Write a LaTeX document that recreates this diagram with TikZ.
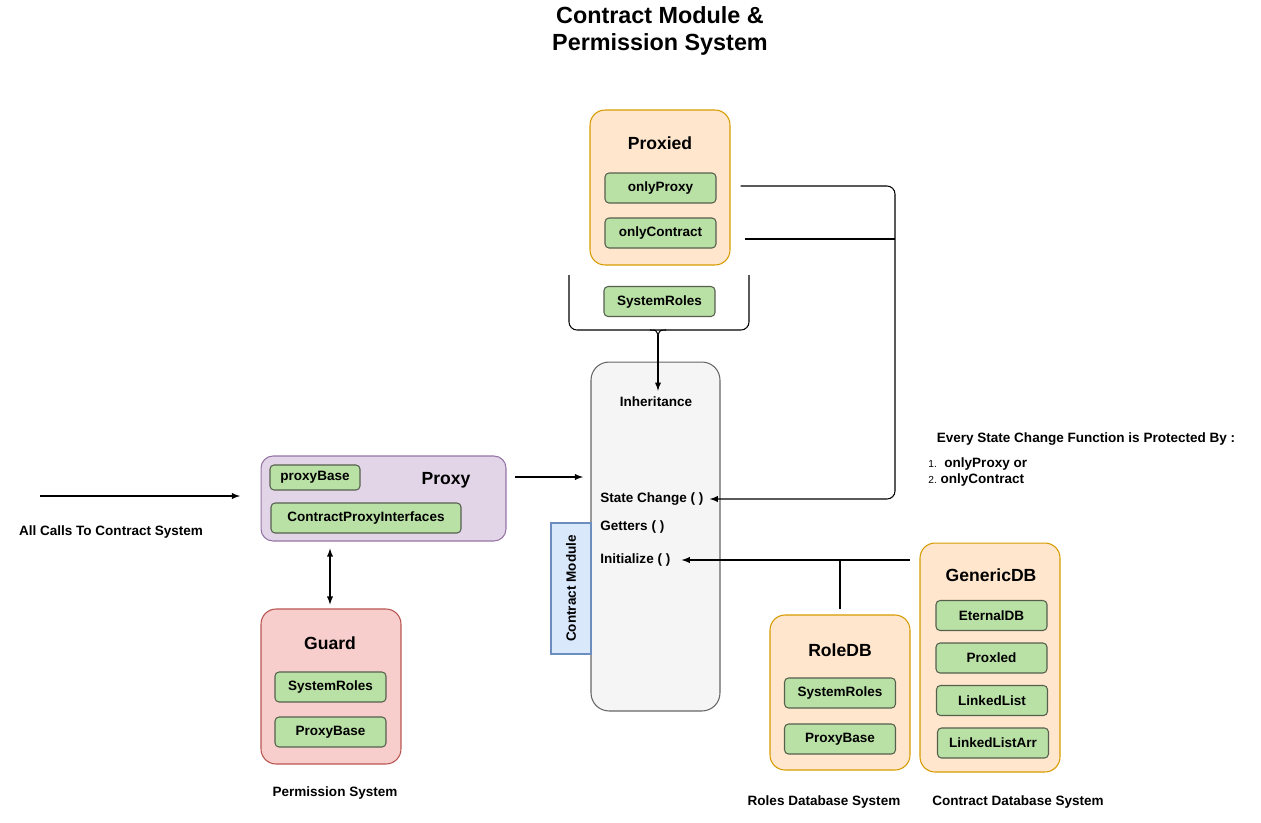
\documentclass[tikz,border=0pt]{standalone}
\usepackage{fontspec}
\setmainfont{Liberation Sans}
\usetikzlibrary{shapes,
                arrows,
                positioning}
\definecolor{orangefill}{HTML}{FFE6CC}
\definecolor{orangeline}{HTML}{D79B00}
\definecolor{greenfill}{HTML}{B9E0A5}
\definecolor{greenline}{HTML}{56604F}
\definecolor{purplefill}{HTML}{E1D5E7}
\definecolor{purpleline}{HTML}{9673A6}
\definecolor{redfill}{HTML}{F8CECC}
\definecolor{redline}{HTML}{B85450}
\definecolor{grayfill}{HTML}{F5F5F5}
\definecolor{grayline}{HTML}{666666}
\definecolor{bluefill}{HTML}{DAE8FC}
\definecolor{blueline}{HTML}{6C8EBF}
\tikzset{module/.style=
   {rectangle,
    draw,
    rounded corners=0.3cm,
    minimum width=2.8cm,
    minimum height=3.1cm}}
\tikzset{item/.style=
   {rectangle,
    draw=greenline,
    fill=greenfill,
    text centered,
    rounded corners=0.08cm,
    minimum width=2.22cm,
    minimum height=0.6cm,
    font=\bfseries\fontsize{7.7}{9}\selectfont}}
\tikzset{plaintext/.style={font=\bfseries\fontsize{7.7}{9}\selectfont}}
\tikzset{heading/.style={font=\bfseries\fontsize{10}{12}\selectfont}}
\tikzset{arrow/.style = {draw, -latex}}

\begin{document}
\begin{tikzpicture}[x=0.02cm, y=-0.02cm, line width=0.6pt]
    \useasboundingbox (0,0) rectangle (1261,822);

    % Title
    \node [align=center, font=\bfseries\fontsize{13.3}{15.3}\selectfont] (title) at (660,31)
    {Contract Module \&\\Permission System};

    % Proxied
    \node [module, fill=orangefill, draw=orangeline] (proxied) at (660,187.5) {};
    \node [heading] (proxiedTitle) at (660,143) {Proxied};
    \node [item] (onlyProxy) at (660.5,188) {onlyProxy};
    \node [item] (onlyContract) at (660.5,233) {onlyContract};

    % Inherited roles
    \node [item] (inheritRoles) at (659.5,301.5) {SystemRoles};
    \coordinate (braceTip) at (658,335);
    \draw [rounded corners=0.16cm] (569,275) -- (569,330) -- (749,330) -- (749,275);
    \draw (650,330) .. controls (656,330) .. (braceTip);
    \draw (666,330) .. controls (660,330) .. (braceTip);

    % Contract module
    \node [module, fill=grayfill, draw=grayline, rounded corners=0.36cm,
           minimum width=2.58cm, minimum height=6.98cm] (contract) at (655.5,536.5) {};
    \node [rectangle, draw=blueline, fill=bluefill, rotate=90, plaintext,
           minimum width=2.62cm, minimum height=0.8cm] (contractTab) at (571,588.5) {Contract Module};
    \node [plaintext] (inheritance) at (656,402) {Inheritance};
    \node [plaintext, anchor=west] (stateChange) at (594,499) {State Change ( )};
    \node [plaintext, anchor=west] (getters) at (594,527) {Getters ( )};
    \node [plaintext, anchor=west] (initialize) at (594,560) {Initialize ( )};

    % Proxy
    \node [module, fill=purplefill, draw=purpleline, rounded corners=0.24cm,
           minimum width=4.9cm, minimum height=1.7cm] (proxy) at (383.5,498.5) {};
    \node [heading] (proxyTitle) at (446,480) {Proxy};
    \node [item, minimum width=1.8cm, minimum height=0.5cm] (proxyBase) at (315,477.5) {proxyBase};
    \node [item, minimum width=3.8cm] (proxyInterfaces) at (366,518) {ContractProxyInterfaces};
    \node [plaintext] (callsText) at (111,532) {All Calls To Contract System};
    \coordinate (callsIn) at (40,496);
    \coordinate (callsEnd) at (240,496);
    \coordinate (proxyOut) at (515,477);
    \coordinate (contractIn) at (583,477);

    % Guard
    \node [module, fill=redfill, draw=redline] (guard) at (331,686.5) {};
    \node [heading] (guardTitle) at (330,643) {Guard};
    \node [item] (guardRoles) at (330.5,687) {SystemRoles};
    \node [item] (guardBase) at (330.5,732) {ProxyBase};
    \node [plaintext] (permissionText) at (335,793) {Permission System};

    % RoleDB
    \node [module, fill=orangefill, draw=orangeline] (roleDB) at (840,692.5) {};
    \node [heading] (roleDBTitle) at (840,650) {RoleDB};
    \node [item] (roleRoles) at (840,693) {SystemRoles};
    \node [item] (roleBase) at (840,739) {ProxyBase};
    \node [plaintext] (rolesText) at (824,802) {Roles Database System};

    % GenericDB
    \node [module, fill=orangefill, draw=orangeline, minimum height=4.58cm] (genericDB) at (990,657.5) {};
    \node [heading] (genericDBTitle) at (991,575) {GenericDB};
    \node [item] (eternalDB) at (991.5,615.5) {EternalDB};
    \node [item] (proxled) at (991.5,658) {Proxled};
    \node [item] (linkedList) at (992,700.5) {LinkedList};
    \node [item] (linkedListArr) at (993,743) {LinkedListArr};
    \node [plaintext] (contractDBText) at (1018,802) {Contract Database System};

    % Notes
    \node [plaintext] (protectText) at (1086,439) {Every State Change Function is Protected By :};
    \node [plaintext, anchor=west] (protectOne) at (922,464)
    {{\mdseries\fontsize{5.8}{7}\selectfont 1.}\ \ onlyProxy or};
    \node [plaintext, anchor=west] (protectTwo) at (922,480)
    {{\mdseries\fontsize{5.8}{7}\selectfont 2.}\ onlyContract};
    \coordinate (protectBus) at (895,499);

    % Draw edges

    \path [arrow]
    (callsIn) -- (callsEnd);

    \path [arrow]
    (proxyOut) -- (contractIn);

    \path [draw, latex-latex]
    ([yshift=-0.14cm]proxy.south -| 330,0) -- ([yshift=0.08cm]guard.north -| 330,0);

    \path [arrow]
    (braceTip) -- (braceTip |- inheritance.north);

    \path [arrow, rounded corners=0.16cm]
    ([xshift=0.48cm, yshift=0.04cm]onlyProxy.east) -| (protectBus) -- (stateChange.east);

    \draw
    ([xshift=0.56cm, yshift=-0.12cm]onlyContract.east) -- ([yshift=-0.12cm]onlyContract.east -| protectBus);

    \path [arrow]
    ([xshift=-0.2cm]genericDB.west |- initialize.east) -- ([xshift=0.1cm]initialize.east);

    \draw
    (roleDB.north |- initialize.east) -- ([yshift=0.1cm]roleDB.north);

\end{tikzpicture}
\end{document}
